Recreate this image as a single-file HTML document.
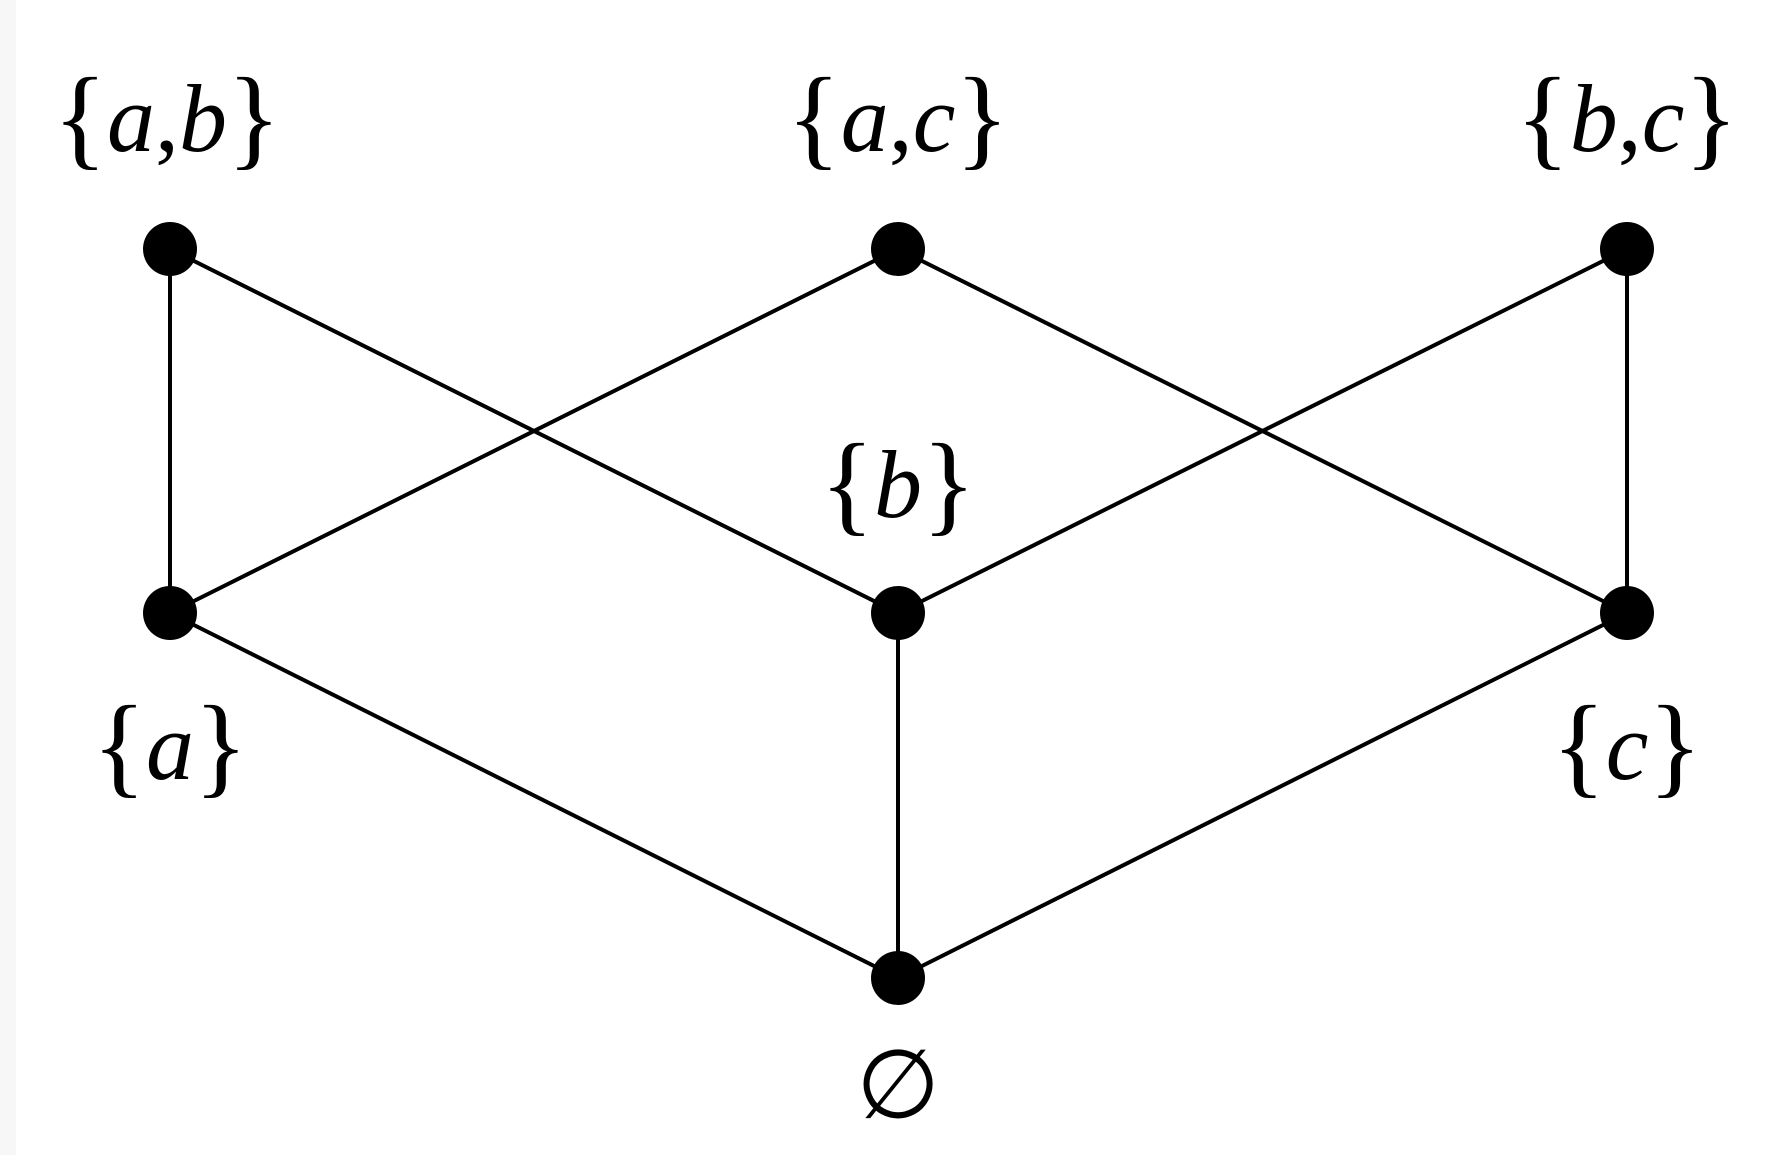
<!DOCTYPE html>
<html><head><style>
html,body{margin:0;padding:0;background:#fff;}
svg{display:block;}
text{font-family:"Liberation Serif",serif;font-size:96px;text-anchor:middle;dominant-baseline:central;}
.i{font-style:italic;}
.b{font-size:112px;}
</style></head><body>
<svg width="1772" height="1155" viewBox="0 0 1772 1155">
<rect x="0" y="0" width="16" height="1155" fill="#f7f7f7"/>
<g stroke="#000" stroke-width="4" fill="none">
<line x1="170" y1="249" x2="170" y2="613"/>
<line x1="170" y1="249" x2="898" y2="613"/>
<line x1="898" y1="249" x2="170" y2="613"/>
<line x1="898" y1="249" x2="1627" y2="613"/>
<line x1="1627" y1="249" x2="898" y2="613"/>
<line x1="1627" y1="249" x2="1627" y2="613"/>
<line x1="170" y1="613" x2="898" y2="978"/>
<line x1="898" y1="613" x2="898" y2="978"/>
<line x1="1627" y1="613" x2="898" y2="978"/>
</g>
<g fill="#000">
<circle cx="170" cy="249" r="27"/><circle cx="898" cy="249" r="27"/><circle cx="1627" cy="249" r="27"/>
<circle cx="170" cy="613" r="27"/><circle cx="898" cy="613" r="27"/><circle cx="1627" cy="613" r="27"/>
<circle cx="898" cy="978" r="27"/>
</g>
<text x="167" y="118"><tspan class="b">{</tspan><tspan class="i">a</tspan>,<tspan class="i">b</tspan><tspan class="b">}</tspan></text>
<text x="898" y="118"><tspan class="b">{</tspan><tspan class="i">a</tspan>,<tspan class="i">c</tspan><tspan class="b">}</tspan></text>
<text x="1627" y="118"><tspan class="b">{</tspan><tspan class="i">b</tspan>,<tspan class="i">c</tspan><tspan class="b">}</tspan></text>
<text x="898" y="484"><tspan class="b">{</tspan><tspan class="i">b</tspan><tspan class="b">}</tspan></text>
<text x="170" y="746"><tspan class="b">{</tspan><tspan class="i">a</tspan><tspan class="b">}</tspan></text>
<text x="1627" y="746"><tspan class="b">{</tspan><tspan class="i">c</tspan><tspan class="b">}</tspan></text>
<text x="898" y="1085">∅</text>
</svg>
</body></html>
